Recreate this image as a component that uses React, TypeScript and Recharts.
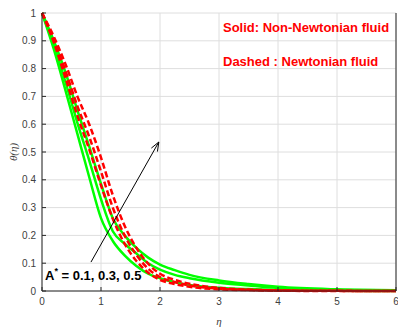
import React from 'react'
import { CartesianGrid, Line, LineChart, ReferenceLine, XAxis, YAxis } from 'recharts'

// similarity variable
const eta = [0, 0.2, 0.4, 0.6, 0.8, 1.0, 1.2, 1.4, 1.6, 1.8, 2.0, 2.25, 2.5, 3.0, 3.5, 4.0, 5.0, 6.0]

// solid: non-Newtonian, A* = 0.1, 0.3, 0.5
const solidA1 = [1, 0.87, 0.72, 0.565, 0.41, 0.262, 0.18, 0.128, 0.09, 0.062, 0.046, 0.032, 0.022, 0.012, 0.007, 0.004, 0.001, 0]
const solidA3 = [1, 0.885, 0.75, 0.605, 0.47, 0.33, 0.215, 0.17, 0.135, 0.1, 0.077, 0.058, 0.046, 0.03, 0.02, 0.011, 0.004, 0.002]
const solidA5 = [1, 0.9, 0.785, 0.65, 0.52, 0.385, 0.262, 0.2, 0.155, 0.12, 0.095, 0.075, 0.058, 0.038, 0.025, 0.015, 0.006, 0.003]

// dashed: Newtonian, A* = 0.1, 0.3, 0.5
const dashA1 = [1, 0.895, 0.765, 0.63, 0.51, 0.38, 0.26, 0.17, 0.108, 0.066, 0.04, 0.025, 0.015, 0.006, 0.003, 0.001, 0, 0]
const dashA3 = [1, 0.905, 0.79, 0.665, 0.555, 0.43, 0.3, 0.2, 0.13, 0.08, 0.05, 0.032, 0.02, 0.008, 0.004, 0.002, 0.0005, 0]
const dashA5 = [1, 0.915, 0.815, 0.7, 0.6, 0.48, 0.345, 0.235, 0.155, 0.098, 0.062, 0.04, 0.026, 0.011, 0.005, 0.002, 0.0007, 0]

const xTicks = [0, 1, 2, 3, 4, 5, 6]
const yTicks = [0, 0.1, 0.2, 0.3, 0.4, 0.5, 0.6, 0.7, 0.8, 0.9, 1]

// arrow for increasing A*
const arrowFrom = { x: 0.83, y: 0.104 }
const arrowTo = { x: 1.98, y: 0.536 }

const data = eta.map((e, i) => ({
  eta: e,
  s1: solidA1[i],
  s3: solidA3[i],
  s5: solidA5[i],
  d1: dashA1[i],
  d3: dashA3[i],
  d5: dashA5[i],
}))

const AXIS = '#262626'
const tickStyle = { fontSize: 10, fill: '#404040', fontFamily: 'Liberation Sans, Arial, sans-serif' }

function Arrow(props: any) {
  const { x1, y1, x2, y2 } = props
  const ang = Math.atan2(y2 - y1, x2 - x1)
  const len = 9
  const w = 3.5
  const bx = x2 - len * Math.cos(ang)
  const by = y2 - len * Math.sin(ang)
  const px = -Math.sin(ang) * w
  const py = Math.cos(ang) * w
  return (
    <g>
      <line x1={x1} y1={y1} x2={x2} y2={y2} stroke="#000" strokeWidth={1} />
      <polyline
        points={`${bx + px},${by + py} ${x2},${y2} ${bx - px},${by - py}`}
        fill="none"
        stroke="#000"
        strokeWidth={1}
      />
    </g>
  )
}

const noTick = () => <g />

export default function App() {
  return (
    <div style={{ position: 'absolute', left: 0, top: 0, width: 398, height: 327, background: '#fff' }}>
      <LineChart width={398} height={327} data={data} margin={{ top: 13, right: 0, bottom: 0, left: 0 }}>
        <CartesianGrid stroke="#dedede" strokeWidth={1} />
        <XAxis
          dataKey="eta"
          type="number"
          domain={[0, 6]}
          ticks={xTicks}
          height={36}
          stroke={AXIS}
          tickSize={-4}
          tickMargin={11}
          tick={tickStyle}
          interval={0}
        />
        <XAxis
          xAxisId="top"
          dataKey="eta"
          type="number"
          orientation="top"
          domain={[0, 6]}
          ticks={xTicks}
          height={0}
          stroke={AXIS}
          tickSize={-4}
          tick={noTick}
        />
        <YAxis
          type="number"
          domain={[0, 1]}
          ticks={yTicks}
          width={42}
          stroke={AXIS}
          tickSize={-4}
          tickMargin={10}
          tick={tickStyle}
          interval={0}
        />
        <YAxis
          yAxisId="right"
          type="number"
          orientation="right"
          domain={[0, 1]}
          ticks={yTicks}
          width={2}
          stroke={AXIS}
          tickSize={-4}
          tick={noTick}
        />
        <Line dataKey="s1" type="monotone" stroke="#00ff00" strokeWidth={2.5} dot={false} isAnimationActive={false} />
        <Line dataKey="s3" type="monotone" stroke="#00ff00" strokeWidth={2.5} dot={false} isAnimationActive={false} />
        <Line dataKey="s5" type="monotone" stroke="#00ff00" strokeWidth={2.5} dot={false} isAnimationActive={false} />
        <Line dataKey="d1" type="monotone" stroke="#ff0000" strokeWidth={2.5} strokeDasharray="6 3" dot={false} isAnimationActive={false} />
        <Line dataKey="d3" type="monotone" stroke="#ff0000" strokeWidth={2.5} strokeDasharray="6 3" dot={false} isAnimationActive={false} />
        <Line dataKey="d5" type="monotone" stroke="#ff0000" strokeWidth={2.5} strokeDasharray="6 3" dot={false} isAnimationActive={false} />
        <ReferenceLine segment={[arrowFrom, arrowTo]} shape={Arrow} ifOverflow="visible" />
      </LineChart>
      <svg
        width={398}
        height={327}
        style={{ position: 'absolute', left: 0, top: 0, pointerEvents: 'none' }}
      >
        <g fontFamily="Liberation Sans, Arial, sans-serif" fontWeight="bold" fontSize={13}>
          <text x={223} y={32} fill="#ff0000">Solid: Non-Newtonian fluid</text>
          <text x={223} y={66} fill="#ff0000">Dashed : Newtonian fluid</text>
          <text x={45} y={280} fill="#000">
            A<tspan dy={-6} fontSize={9}>*</tspan>
            <tspan dy={6}> = 0.1, 0.3, 0.5</tspan>
          </text>
        </g>
        <text x={219} y={325} textAnchor="middle" fontFamily="Liberation Serif, serif" fontStyle="italic" fontSize={11} fill="#404040">
          η
        </text>
        <text
          x={0}
          y={0}
          transform="translate(17,152) rotate(-90)"
          textAnchor="middle"
          fontFamily="Liberation Serif, serif"
          fontStyle="italic"
          fontSize={11}
          fill="#404040"
        >
          θ(η)
        </text>
      </svg>
    </div>
  )
}
